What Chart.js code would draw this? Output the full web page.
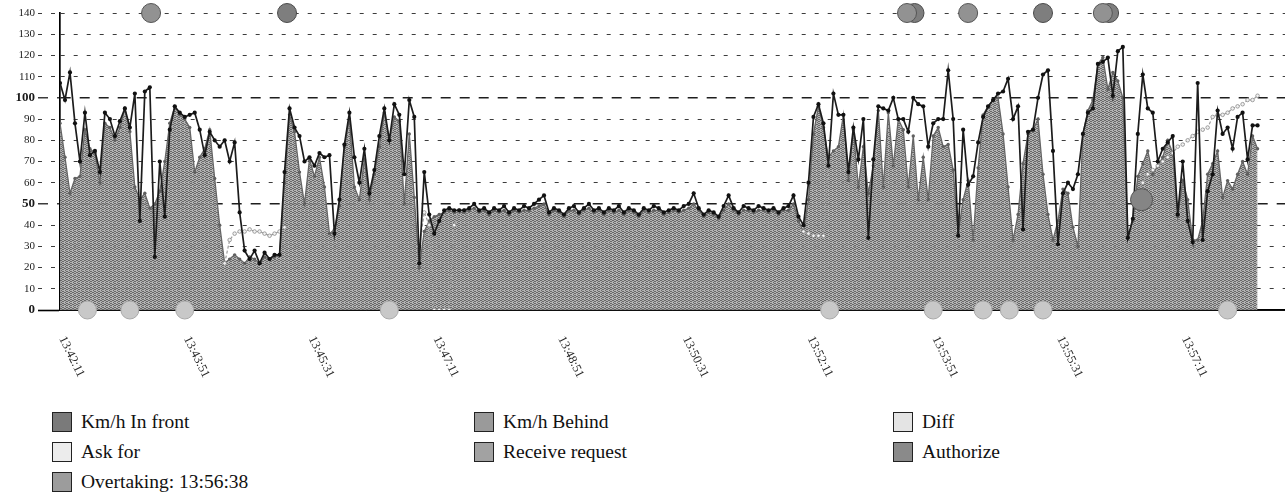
<!DOCTYPE html>
<html>
<head>
<meta charset="utf-8">
<script src="https://cdn.jsdelivr.net/npm/chart.js@4.4.1/dist/chart.umd.min.js"></script>
<style>
  html, body { margin:0; padding:0; background:#fff; }
  body { width:1285px; height:498px; position:relative; overflow:hidden; font-family:"Liberation Serif", serif; }
  #wrap { position:absolute; left:0; top:0; width:1285px; height:400px; }
  .lg { position:absolute; height:20px; font-size:19.5px; color:#111; white-space:nowrap; line-height:20px; }
  .lg i { position:absolute; left:0; top:0; width:18px; height:18px; border:1.5px solid #222; }
  .lg span { position:absolute; left:29px; top:0; }
</style>
</head>
<body>
<div id="wrap"><canvas id="c"></canvas></div>
<div id="legend"></div>
<script>
// ---------- data ----------
const startTime = "13:42:11";
const stepSeconds = 4;
const tickLabels = ["13:42:11","13:43:51","13:45:31","13:47:11","13:48:51","13:50:31","13:52:11","13:53:51","13:55:31","13:57:11"];

const frontSpeed = [
 107,99,112,88,70,93,73,75,65,93,
 90,82,89,95,86,102,42,103,105,25,
 70,44,85,96,93,91,92,93,85,73,
 84,80,77,80,70,79,46,28,24,28,
 22,27,24,26,26,65,95,86,82,70,
 72,68,74,72,73,36,52,78,93,72,
 60,76,55,66,82,95,80,97,92,64,
 99,91,22,65,45,36,42,47,48,47,
 47,47,48,50,47,48,46,48,47,49,
 46,48,47,49,48,50,52,54,46,48,
 47,45,48,49,46,48,50,47,48,46,
 48,47,49,46,48,47,45,48,47,49,
 48,46,47,48,47,49,50,55,48,45,
 47,46,44,49,54,48,46,49,48,47,
 49,48,47,48,46,48,49,54,44,40,
 60,91,97,88,68,102,92,92,65,86,
 71,90,34,71,96,95,94,100,90,90,
 84,100,97,96,77,88,90,90,113,90,
 35,85,59,63,79,91,96,99,102,103,
 109,90,96,38,84,85,100,111,113,75,
 31,55,60,57,64,83,93,95,116,117,
 119,101,122,124,34,43,83,111,95,93,
 70,76,79,82,45,70,42,32,107,33,
 56,64,94,83,86,76,91,93,71,87,87
];

const behindSpeed = [
 88,72,55,62,63,85,76,74,60,88,
 86,80,86,95,84,58,52,55,48,50,
 56,70,88,96,92,90,86,65,72,76,
 85,62,40,22,24,26,24,22,25,24,
 22,25,24,25,26,60,92,84,65,50,
 71,63,72,58,36,38,49,77,90,58,
 52,71,52,64,77,93,80,91,89,50,
 83,53,20,37,42,44,45,46,47,46,
 46,46,47,48,46,47,45,47,46,47,
 45,47,46,47,47,48,49,50,45,47,
 46,44,47,47,45,47,48,46,47,45,
 47,46,47,45,47,46,44,47,46,47,
 47,45,46,47,46,47,48,50,47,44,
 46,45,43,47,50,47,45,47,47,46,
 47,47,46,47,45,47,47,50,42,37,
 52,83,96,86,72,75,77,92,61,85,
 58,77,55,68,94,58,93,68,90,85,
 58,82,52,72,52,82,86,77,78,66,
 36,52,61,33,67,92,96,99,100,83,
 58,33,45,69,83,85,90,64,45,33,
 42,57,55,39,30,83,94,99,116,119,
 104,112,108,100,34,42,63,69,75,64,
 68,72,80,74,44,61,52,33,33,42,
 64,69,75,53,61,57,64,70,64,82,76
];

const diffSeconds = [
 132,136,140,144,148,152,156,160,164,168,172,176,180,184,
 288,292,296,300,304,308,312,316,320,324,328,
 596,600,604,608,612,616,620,
 860,864,868,872,876,880,884,888,892,896,900,904,908,912,916,920,924,928,932,936,940,944,948,952,956,960
];
const diffValues = [
 22,33,36,37,37,38,37,37,36,35,36,37,39,null,
 30,46,40,0,0,0,0,40,47,47,null,
 37,36,35,35,35,70,null,
 52,56,60,64,66,68,70,72,74,77,78,80,82,84,85,86,91,92,92,93,95,96,97,99,99,101
];

const askForTimes = ["13:42:33","13:43:07","13:43:51","13:46:35","13:52:28","13:53:51","13:54:31","13:54:52","13:55:19","13:57:47"];
const askForValues = [0,0,0,0,0,0,0,0,0,0];
const receiveTimes = ["13:43:24","13:53:30","13:54:19","13:56:07"];
const receiveValues = [140,140,140,140];
const authorizeTimes = ["13:45:13","13:53:36","13:55:19","13:56:12"];
const authorizeValues = [140,140,140,140];
const overtakingTimes = ["13:56:38"];
const overtakingValues = [52];

// ---------- helpers ----------
function toSec(t){ const p = t.split(':').map(Number); return p[0]*3600 + p[1]*60 + p[2]; }
const t0 = toSec(startTime);
const rel = t => toSec(t) - t0;

function makePattern(a, b){
  const p = document.createElement('canvas'); p.width = 4; p.height = 4;
  const c = p.getContext('2d');
  c.fillStyle = a; c.fillRect(0,0,4,4);
  c.fillStyle = b;
  [[0,0],[2,1],[1,2],[3,3],[3,1],[1,0],[2,3]].forEach(q => c.fillRect(q[0], q[1], 1, 1));
  return document.getElementById('c').getContext('2d').createPattern(p, 'repeat');
}
const fillPattern = makePattern('rgba(168,168,168,0.88)', 'rgba(95,95,95,0.88)');

const serif = '"Liberation Serif", "Times New Roman", serif';

const xLabelPlugin = {
  id: 'xlabels',
  afterDraw(chart){
    const sc = chart.scales.x, ctx = chart.ctx;
    ctx.save();
    ctx.font = '12.5px ' + serif;
    ctx.fillStyle = '#2a2a2a';
    tickLabels.forEach(t => {
      const px = sc.getPixelForValue(rel(t));
      ctx.save();
      ctx.translate(px + 2, 337);
      ctx.rotate(64 * Math.PI / 180);
      ctx.textAlign = 'left';
      ctx.textBaseline = 'middle';
      ctx.fillText(t, 0, 0);
      ctx.restore();
    });
    ctx.restore();
  }
};

const majors = v => v === 50 || v === 100;

const chart = new Chart(document.getElementById('c'), {
  type: 'line',
  data: {
    datasets: [
      { label: 'Overtaking: 13:56:38', data: overtakingTimes.map((t,i)=>({x:rel(t), y:overtakingValues[i]})),
        showLine:false, pointRadius:11, pointBackgroundColor:'#858585', pointBorderColor:'#555', pointBorderWidth:1, clip:false, order:0 },
      { label: 'Receive request', data: receiveTimes.map((t,i)=>({x:rel(t), y:receiveValues[i]})),
        showLine:false, pointRadius:9.5, pointBackgroundColor:'#929292', pointBorderColor:'#555', pointBorderWidth:1, clip:false, order:0 },
      { label: 'Authorize', data: authorizeTimes.map((t,i)=>({x:rel(t), y:authorizeValues[i]})),
        showLine:false, pointRadius:9.5, pointBackgroundColor:'#7e7e7e', pointBorderColor:'#4a4a4a', pointBorderWidth:1, clip:false, order:0 },
      { label: 'Ask for', data: askForTimes.map((t,i)=>({x:rel(t), y:askForValues[i]})),
        showLine:false, pointRadius:9, pointBackgroundColor:'#c8c8c8', pointBorderColor:'#a8a8a8', pointBorderWidth:1, clip:false, order:0 },
      { label: 'Km/h In front', data: frontSpeed.map((v,i)=>({x:i*stepSeconds, y:v})),
        borderColor:'#1c1c1c', borderWidth:1.7, pointRadius:2.1, pointBackgroundColor:'#111', pointBorderColor:'#111',
        pointBorderWidth:0, tension:0, fill:false, order:1 },
      { label: 'Diff', data: diffSeconds.map((s,i)=>({x:s, y:diffValues[i]})),
        borderColor:'#9c9c9c', borderWidth:1.2, borderDash:[3,2], pointRadius:1.8, pointBackgroundColor:'#f2f2f2',
        pointBorderColor:'#8a8a8a', pointBorderWidth:0.8, tension:0, fill:false, spanGaps:false, order:2 },
      { label: 'Km/h Behind', data: behindSpeed.map((v,i)=>({x:i*stepSeconds, y:v})),
        borderColor:'#666', borderWidth:1.3, pointRadius:1.7, pointBackgroundColor:'#606060', pointBorderWidth:0,
        backgroundColor: fillPattern, fill:'origin', tension:0, order:3 }
    ]
  },
  options: {
    responsive: true,
    maintainAspectRatio: false,
    animation: false,
    devicePixelRatio: 1,
    layout: { autoPadding: false, padding: { top: 13, right: 0, left: 0, bottom: 0 } },
    plugins: { legend: { display:false }, tooltip: { enabled:false } },
    scales: {
      x: {
        type: 'linear', min: 0, max: 982,
        ticks: { display:false },
        grid: { display:false, drawTicks:false },
        border: { display:true, color:'#000', width:1.7 },
        afterFit(s){ s.height = 90; }
      },
      y: {
        min: 0, max: 140,
        ticks: {
          stepSize: 10, padding: 3, color:'#1a1a1a',
          font: ctx => (ctx.tick && (ctx.tick.value === 0 || majors(ctx.tick.value)))
            ? { family: serif, size: 13, weight: 'bold' }
            : { family: serif, size: 11, weight: 'normal' }
        },
        grid: {
          color: ctx => (ctx.tick && majors(ctx.tick.value)) ? '#1e1e1e' : '#3c3c3c',
          lineWidth: ctx => (ctx.tick && majors(ctx.tick.value)) ? 1.6 : 1,
          tickLength: 22,
          tickColor: ctx => (ctx.tick && ctx.tick.value === 0) ? '#000' : '#3c3c3c',
          tickWidth: ctx => (ctx.tick && (ctx.tick.value === 0 || majors(ctx.tick.value))) ? 1.6 : 1,
          tickBorderDash: ctx => (ctx.tick && ctx.tick.value === 0) ? [] : ((ctx.tick && majors(ctx.tick.value)) ? [10,9] : [4,9])
        },
        border: {
          display: true, color:'#000', width: 1.7,
          dash: ctx => { if (!ctx.tick) return []; const v = ctx.tick.value; if (v === 0) return []; return majors(v) ? [10,9] : [4,9]; }
        },
        afterFit(s){ s.width = 60; }
      }
    }
  },
  plugins: [xLabelPlugin]
});

// ---------- HTML legend (3 columns) ----------
const legendItems = [
  { text:'Km/h In front', color:'#7a7a7a', col:0, row:0 },
  { text:'Km/h Behind', color:'#9a9a9a', col:1, row:0 },
  { text:'Diff', color:'#e4e4e4', col:2, row:0 },
  { text:'Ask for', color:'#ececec', col:0, row:1 },
  { text:'Receive request', color:'#a2a2a2', col:1, row:1 },
  { text:'Authorize', color:'#8a8a8a', col:2, row:1 },
  { text:'Overtaking: 13:56:38', color:'#9c9c9c', col:0, row:2 }
];
const colX = [52, 474, 893], rowY = [412, 442, 472];
const lg = document.getElementById('legend');
legendItems.forEach(it => {
  const d = document.createElement('div');
  d.className = 'lg';
  d.style.left = colX[it.col] + 'px';
  d.style.top = rowY[it.row] + 'px';
  const sw = document.createElement('i'); sw.style.background = it.color;
  const tx = document.createElement('span'); tx.textContent = it.text;
  d.appendChild(sw); d.appendChild(tx);
  lg.appendChild(d);
});
</script>
</body>
</html>
